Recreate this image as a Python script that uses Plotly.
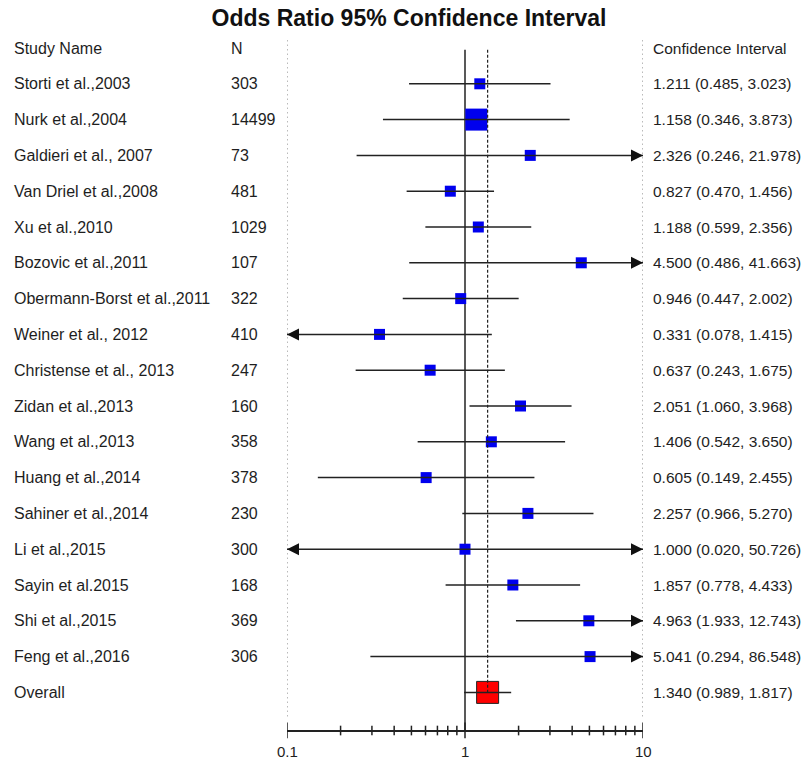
import numpy as np
import plotly.graph_objects as go

# ---------------- data ----------------
studies = ["Storti et al.,2003", "Nurk et al.,2004", "Galdieri et al., 2007",
           "Van Driel et al.,2008", "Xu et al.,2010", "Bozovic et al.,2011",
           "Obermann-Borst et al.,2011", "Weiner et al., 2012",
           "Christense et al., 2013", "Zidan et al.,2013", "Wang et al.,2013",
           "Huang et al.,2014", "Sahiner et al.,2014", "Li et al.,2015",
           "Sayin et al.2015", "Shi et al.,2015", "Feng et al.,2016"]
n_values = [303, 14499, 73, 481, 1029, 107, 322, 410, 247, 160, 358, 378,
            230, 300, 168, 369, 306]
odds = [1.211, 1.158, 2.326, 0.827, 1.188, 4.500, 0.946, 0.331, 0.637,
        2.051, 1.406, 0.605, 2.257, 1.000, 1.857, 4.963, 5.041]
lower = [0.485, 0.346, 0.246, 0.470, 0.599, 0.486, 0.447, 0.078, 0.243,
         1.060, 0.542, 0.149, 0.966, 0.020, 0.778, 1.933, 0.294]
upper = [3.023, 3.873, 21.978, 1.456, 2.356, 41.663, 2.002, 1.415, 1.675,
         3.968, 3.650, 2.455, 5.270, 50.726, 4.433, 12.743, 86.548]
overall_label = "Overall"
overall_or = 1.340
overall_lower = 0.989
overall_upper = 1.817

header = ["Study Name", "N", "Confidence Interval"]
title = "Odds Ratio 95% Confidence Interval"
major_ticks = [0.1, 1, 10]
major_tick_text = ["0.1", "1", "10"]
minor_ticks = [0.2, 0.3, 0.4, 0.5, 0.6, 0.7, 0.8, 0.9, 2, 3, 4, 5, 6, 7, 8, 9]

# ---------------- layout constants ----------------
W, H = 811, 761
FONT = "Arial, 'Liberation Sans', sans-serif"
TXT = "#1e1e1e"
XMIN, XMAX = 0.1, 10
row_top_px, row_step_px = 48, 35.8
overall_row = len(studies) + 1
axis_row = 19.08
ticklabel_row = 19.64

fig = go.Figure()

def vline(x, y0, y1, color, width, dash="solid"):
    fig.add_trace(go.Scatter(x=[x, x], y=[y0, y1], mode="lines",
                             line=dict(color=color, width=width, dash=dash),
                             hoverinfo="skip", showlegend=False))

# dotted boundary lines
vline(XMIN, -0.22, 18.69, "#8c8c8c", 1.2, "1.5px,3px")
vline(XMAX, -0.22, 18.69, "#8c8c8c", 1.2, "1.5px,3px")
# line of no effect
vline(1, 0.05, axis_row, "#222222", 1.5)

rows = list(range(1, len(studies) + 1))
max_n = max(n_values)
sizes = [22 if n == max_n else 11 for n in n_values]

# study boxes
fig.add_trace(go.Scatter(x=odds, y=rows, mode="markers",
                         marker=dict(symbol="square", size=sizes, color="#0000EE",
                                     opacity=1, line=dict(width=0)),
                         hoverinfo="skip", showlegend=False))
# overall box
fig.add_trace(go.Scatter(x=[overall_or], y=[overall_row], mode="markers",
                         marker=dict(symbol="square", size=22, color="#FF0000",
                                     opacity=1,
                                     line=dict(width=1, color="#222222")),
                         hoverinfo="skip", showlegend=False))

# overall effect dashed line
vline(overall_or, 0.05, overall_row, "#222222", 1.2, "3px,2px")

# CI lines
cx, cy = [], []
for r, lo, hi in zip(rows + [overall_row], lower + [overall_lower], upper + [overall_upper]):
    cx += [max(lo, XMIN), min(hi, XMAX), None]
    cy += [r, r, None]
fig.add_trace(go.Scatter(x=cx, y=cy, mode="lines",
                         line=dict(color="#222222", width=1.5),
                         hoverinfo="skip", showlegend=False))

# arrows for truncated intervals
rx = [XMAX for r, hi in zip(rows, upper) if hi > XMAX]
ry = [r for r, hi in zip(rows, upper) if hi > XMAX]
lx = [XMIN for r, lo in zip(rows, lower) if lo < XMIN]
ly = [r for r, lo in zip(rows, lower) if lo < XMIN]
fig.add_trace(go.Scatter(x=rx, y=ry, mode="markers",
                         marker=dict(symbol="arrow-right", size=12, color="#111111",
                                     opacity=1, line=dict(width=0)),
                         hoverinfo="skip", showlegend=False))
fig.add_trace(go.Scatter(x=lx, y=ly, mode="markers",
                         marker=dict(symbol="arrow-left", size=12, color="#111111",
                                     opacity=1, line=dict(width=0)),
                         hoverinfo="skip", showlegend=False))

# bottom axis line and ticks
fig.add_trace(go.Scatter(x=[XMIN, XMAX], y=[axis_row, axis_row], mode="lines",
                         line=dict(color="#222222", width=2),
                         hoverinfo="skip", showlegend=False))
tx, ty = [], []
for t in major_ticks:
    tx += [t, t, None]
    ty += [axis_row - 0.24, axis_row + 0.2, None]
for t in minor_ticks:
    tx += [t, t, None]
    ty += [axis_row - 0.15, axis_row + 0.12, None]
fig.add_trace(go.Scatter(x=tx, y=ty, mode="lines",
                         line=dict(color="#222222", width=1.5),
                         hoverinfo="skip", showlegend=False))

annotations = []
def txt(x_px, row, s, anchor="left", size=15.5):
    annotations.append(dict(x=x_px / W, xref="paper", y=row, yref="y", text=s,
                            showarrow=False, xanchor=anchor, yanchor="middle",
                            font=dict(family=FONT, size=size, color=TXT)))

# header
txt(12, 0, header[0], size=16)
txt(229, 0, header[1], size=16)
txt(651, 0, header[2])
for r, name, n, o, lo, hi in zip(rows, studies, n_values, odds, lower, upper):
    txt(12, r, name, size=16)
    txt(229, r, str(n), size=16)
    txt(651, r, f"{o:.3f} ({lo:.3f}, {hi:.3f})")
txt(12, overall_row, overall_label, size=16)
txt(651, overall_row, f"{overall_or:.3f} ({overall_lower:.3f}, {overall_upper:.3f})")

# tick labels
for t, s in zip(major_ticks, major_tick_text):
    annotations.append(dict(x=np.log10(t), xref="x", y=ticklabel_row, yref="y",
                            text=s, showarrow=False, xanchor="center",
                            yanchor="middle",
                            font=dict(family=FONT, size=15, color=TXT)))

fig.update_layout(
    width=W, height=H,
    margin=dict(l=0, r=0, t=0, b=0),
    paper_bgcolor="white", plot_bgcolor="white",
    title=dict(text=f"<b>{title}</b>", x=409 / W, xanchor="center",
               y=1 - 18 / H, yanchor="middle",
               font=dict(family=FONT, size=23, color="#111111")),
    xaxis=dict(type="log", range=[np.log10(XMIN), np.log10(XMAX)],
               domain=[287 / W, 643 / W], visible=False),
    yaxis=dict(range=[(H - row_top_px) / row_step_px, -row_top_px / row_step_px],
               domain=[0, 1], visible=False),
    annotations=annotations,
    showlegend=False,
)

fig.write_html("out.html",
               config={"displayModeBar": False},
               post_script="document.body.style.margin='0';document.body.style.overflow='hidden';")
